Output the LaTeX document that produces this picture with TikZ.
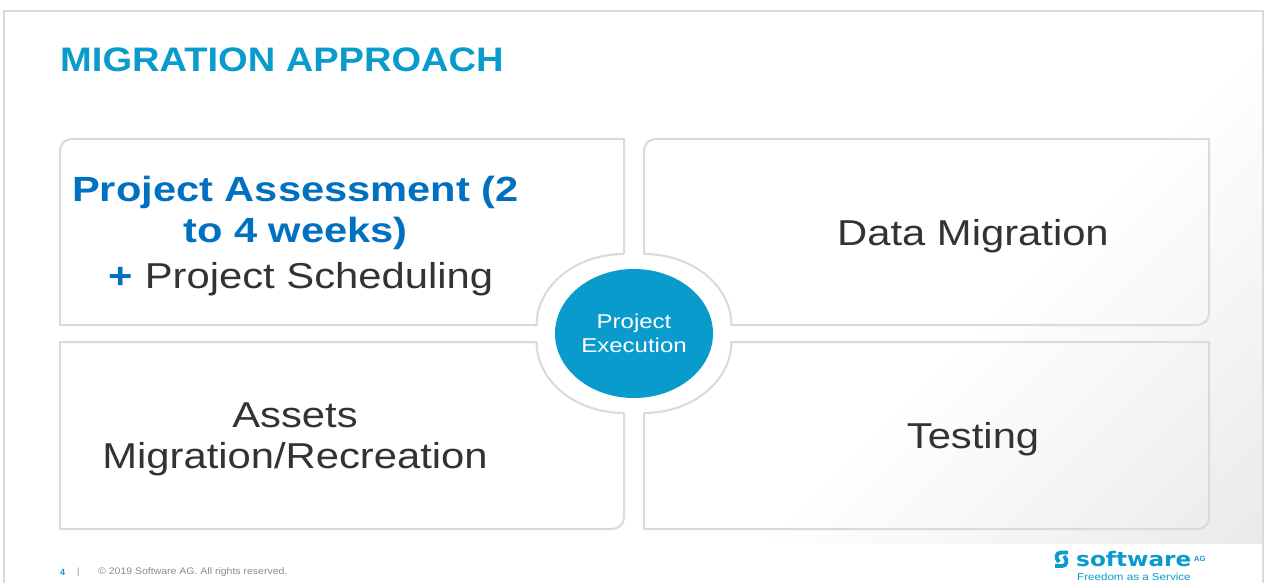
\documentclass[tikz,border=0pt]{standalone}
\usepackage{fontspec}
\setmainfont{Liberation Sans}
\newfontfamily\widetitle[FakeStretch=1.12]{Liberation Sans}
\newfontfamily\widehead[FakeStretch=1.19]{Liberation Sans}
\newfontfamily\widebody[FakeStretch=1.16]{Liberation Sans}
\newfontfamily\widehub[FakeStretch=1.2]{Liberation Sans}
\newfontfamily\widefoot[FakeStretch=1.105]{Liberation Sans}
\newfontfamily\logofont[FakeStretch=1.16]{DejaVu Sans}
\usetikzlibrary{shapes.geometric}
\definecolor{linegray}{HTML}{DADADA}
\definecolor{titleblue}{HTML}{0A9BCD}
\definecolor{headblue}{HTML}{0070C0}
\definecolor{bodytext}{HTML}{333333}
\definecolor{footgray}{HTML}{8C8C8C}
\definecolor{shadegray}{HTML}{EAEAEA}
\tikzset{
  panel/.style={draw=linegray,line width=2pt,fill=none,line join=miter},
  lab/.style={inner sep=0pt,align=center,text=bodytext,font=\fontsize{36}{41}\selectfont\widebody},
  logotext/.style={inner sep=0pt,text=titleblue}
}
\begin{document}
\begin{tikzpicture}[x=1pt,y=-1pt]
\useasboundingbox (0,0) rectangle (1265,583);
\fill[white] (0,0) rectangle (1265,583);
% shaded lower right of the slide
\begin{scope}
\clip (4,12) rectangle (1262,543);
\foreach \c in {1300,1305,...,1805}{
  \pgfmathsetmacro{\mixv}{(\c-1300)/5.05}
  \fill[shadegray!\mixv!white] (\c,0) -- (\c-600,600) -- (2000,600) -- (2000,0) -- cycle;
}
\end{scope}
% slide frame
\draw[draw=linegray,line width=2pt] (3.5,583) -- (3.5,11.5) -- (1263,11.5) -- (1263,583);
% panels
\draw[panel] (624,254) -- (624,139) -- (72,139) .. controls (65,139) and (60,144) .. (60,151) -- (60,325) -- (536.6,325)
   .. controls (536.6,285.8) and (575.7,254) .. (624,254);
\draw[panel] (644,254) -- (644,151) .. controls (644,144) and (649,139) .. (656,139) -- (1209,139) -- (1209,313)
   .. controls (1209,320) and (1204,325) .. (1197,325) -- (731.4,325) .. controls (731.4,285.8) and (692.3,254) .. (644,254);
\draw[panel] (624,413) -- (624,517) .. controls (624,524) and (619,529) .. (612,529) -- (60,529) -- (60,342) -- (536.6,342)
   .. controls (536.6,381.2) and (575.7,413) .. (624,413);
\draw[panel] (644,413) -- (644,529) -- (1197,529) .. controls (1204,529) and (1209,524) .. (1209,517) -- (1209,342) -- (731.4,342)
   .. controls (731.4,381.2) and (692.3,413) .. (644,413);
% centre
\node[ellipse,fill=titleblue,minimum width=158pt,minimum height=129pt,inner sep=0pt] (hub) at (634,333.5) {};
\node[inner sep=0pt,align=center,text=white,font=\fontsize{20}{24}\selectfont\widehub] (hublab) at (634,333.5) {Project\\Execution};
% texts
\node[anchor=west,inner sep=0pt,text=titleblue,font=\fontsize{34}{40}\selectfont\widetitle\bfseries] (title) at (60,60) {MIGRATION APPROACH};
\node[inner sep=0pt,align=center,text=headblue,font=\fontsize{35}{41}\selectfont\widehead\bfseries] (assess) at (295.5,213) {Project Assessment (2\\to 4 weeks)};
\node[lab] (sched) at (301,279) {\textcolor{headblue}{\textbf{+}} Project Scheduling};
\node[lab] (data) at (973,236) {Data Migration};
\node[lab] (assets) at (295,439) {Assets\\Migration/Recreation};
\node[lab] (testing) at (973,439) {Testing};
% footer
\node[anchor=west,inner sep=0pt,text=titleblue,font=\fontsize{9}{10}\selectfont\bfseries] (pg) at (60,572) {4};
\node[anchor=west,inner sep=0pt,text=footgray,font=\fontsize{9}{10}\selectfont] (bar) at (77,572) {|};
\node[anchor=west,inner sep=0pt,text=footgray,font=\fontsize{9.5}{10}\selectfont\widefoot] (copy) at (98,572) {© 2019 Software AG. All rights reserved.};
% logo
\node[logotext,anchor=base west,font=\fontsize{20}{24}\selectfont\logofont\bfseries] (sw) at (1076,566) {software};
\node[logotext,anchor=west,font=\fontsize{7.5}{8}\selectfont\bfseries] (ag) at (1194,559) {AG};
\node[logotext,anchor=west,font=\fontsize{10}{12}\selectfont\widebody] (free) at (1077,577) {Freedom as a Service};
\draw[titleblue,line width=3.8pt] (1068,552.5) -- (1061,552.5) .. controls (1056,552.5) and (1055,558) .. (1059,562);
\draw[titleblue,line width=3.8pt] (1055,566) -- (1062,566) .. controls (1067,566) and (1068,560) .. (1064,556);
\end{tikzpicture}
\end{document}
